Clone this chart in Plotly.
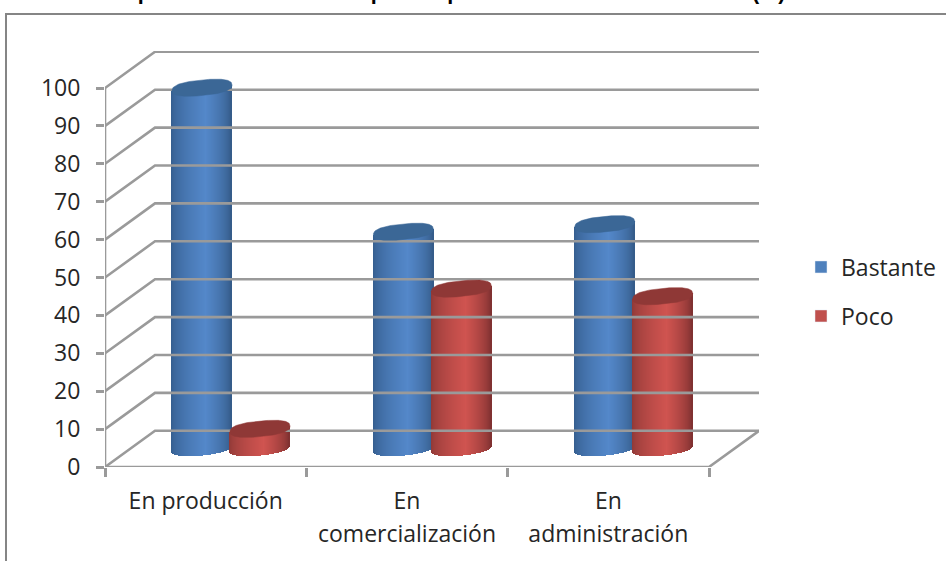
import numpy as np
import plotly.graph_objects as go

categories_first = ["En producción", "En", "En"]
categories_second = ["", "comercialización", "administración"]
bastante = [95, 57, 59]
poco = [5, 42, 40]
y_ticks = list(range(0, 101, 10))

W, H = 946, 561
L, R, T, B = 105, 759, 50.7, 466.7
PX_X = (709 - 105) / 3
PX_Y = 37.9 / 10
DX = (R - 709) / PX_X
DY = (B - 430.5) / PX_Y
XMAX = 3 + DX
YMAX = (B - T) / PX_Y
GRID = "#9a9a9a"
FONT = "Open Sans"
TXT = "#262626"


def px(x):
    return (x - L) / (R - L)


def py(y):
    return (B - y) / (B - T)


def shade(t, edge0, mid, edge1):
    c = 0.15
    if t < c:
        f = ((t + 1) / (c + 1)) ** 0.6
        a, b = edge0, mid
    else:
        f = ((1 - t) / (1 - c)) ** 0.6
        a, b = edge1, mid
    return "rgb(%d,%d,%d)" % tuple(int(a[i] + (b[i] - a[i]) * f) for i in range(3))


def cylinder(cat, value, centre, cols3, top_col):
    hw = 30 / PX_X
    hh = 7.8 / PX_Y
    tilt = 2.8 / PX_Y
    base = (466.7 - 447.5) / PX_Y
    xc = cat + centre
    n = 60
    edges = np.linspace(-1, 1, n + 1)
    mids = (edges[:-1] + edges[1:]) / 2
    xs = xc + mids * hw
    bottom = base - hh * (1 - mids ** 2) ** 0.4 + tilt * mids
    top = base + value + tilt * mids
    cols = [shade(t, *cols3) for t in mids]
    traces = [go.Bar(x=xs, y=top - bottom, base=bottom, width=2 * hw / n * 1.6,
                     marker=dict(color=cols, line=dict(width=0)),
                     showlegend=False, hoverinfo="skip")]
    th = np.linspace(0, 2 * np.pi, 120)
    cx = np.sign(np.cos(th)) * np.abs(np.cos(th)) ** 0.8
    sy = np.sign(np.sin(th)) * np.abs(np.sin(th)) ** 0.8
    ex = xc + hw * cx
    ey = base + value + tilt * cx + hh * sy
    traces.append(go.Scatter(x=ex, y=ey, mode="lines", fill="toself", fillcolor=top_col,
                             line=dict(color=top_col, width=0.5), showlegend=False,
                             hoverinfo="skip"))
    return traces


gx, gy = [], []
for v in y_ticks:
    gx += [0, DX, XMAX, None]
    gy += [v, v + DY, v + DY, None]
gx += [0, 0, None, 0, 3, XMAX]
gy += [0, 100, None, 0, 0, DY]

fig = go.Figure()
fig.add_trace(go.Scatter(x=gx, y=gy, mode="lines", line=dict(color=GRID, width=2.6),
                         showlegend=False, hoverinfo="skip", cliponaxis=False))

BLUE = ((52, 92, 140), (84, 136, 202), (50, 88, 132))
RED = ((140, 56, 54), (208, 84, 80), (120, 46, 46))
for i in range(3):
    for t in cylinder(i, bastante[i], 0.482, BLUE, "#3B6796"):
        fig.add_trace(t)
    for t in cylinder(i, poco[i], 0.77, RED, "#8F3836"):
        fig.add_trace(t)

fig.add_trace(go.Bar(x=[None], y=[None], name="Bastante", marker_color="#4F81BD", legend="legend"))
fig.add_trace(go.Bar(x=[None], y=[None], name="Poco", marker_color="#C0504D", legend="legend2"))
fig.add_trace(go.Scatter(x=[None], y=[None], xaxis="x2", showlegend=False, hoverinfo="skip"))

legend_font = dict(family=FONT, size=23, color=TXT)
fig.update_layout(
    width=W, height=H, margin=dict(l=L, r=W - R, t=T, b=H - B),
    paper_bgcolor="white", plot_bgcolor="white", barmode="overlay", bargap=0,
    font=dict(family=FONT, size=23, color=TXT),
    xaxis=dict(range=[0, XMAX], showgrid=False, zeroline=False, showline=False,
               tickvals=[0.5, 1.5, 2.5], ticktext=categories_first, ticks="", tickangle=0,
               ticklabelstandoff=18,
               minor=dict(tickvals=[0, 1, 2, 3], ticks="outside", ticklen=9,
                          tickcolor=GRID, tickwidth=2.6, showgrid=False)),
    xaxis2=dict(range=[0, XMAX], overlaying="x", anchor="y", side="bottom",
                showgrid=False, zeroline=False, showline=False,
                tickvals=[0.5, 1.5, 2.5], ticktext=categories_second, ticks="", tickangle=0,
                ticklabelstandoff=51),
    yaxis=dict(range=[0, YMAX], showgrid=False, zeroline=False, showline=False,
               tickvals=y_ticks, ticks="outside", ticklen=8, tickcolor=GRID, tickwidth=2.6,
               ticklabelstandoff=11),
    legend=dict(xref="container", yref="container", x=801 / W, y=1 - 267 / H,
                xanchor="left", yanchor="middle", font=legend_font, bgcolor="rgba(0,0,0,0)"),
    legend2=dict(xref="container", yref="container", x=801 / W, y=1 - 316 / H,
                 xanchor="left", yanchor="middle", font=legend_font, bgcolor="rgba(0,0,0,0)"),
    shapes=[dict(type="path", xref="paper", yref="paper", layer="below",
                 path=f"M{px(6)},{py(561)} L{px(6)},{py(13.7)} L{px(946)},{py(13.7)}",
                 line=dict(color="#858585", width=2))],
    annotations=[dict(text="<b>Gráfico 6. Opinión de los tenentes por la aplicación de los encuestados (%)</b>",
                      xref="paper", yref="paper", x=px(14), y=py(6), xanchor="left",
                      yanchor="bottom", showarrow=False,
                      font=dict(family="Liberation Sans", size=21.5, color="black"))],
)
fig.write_html("out.html", post_script="document.body.style.margin='0';",
               config=dict(displayModeBar=False))
